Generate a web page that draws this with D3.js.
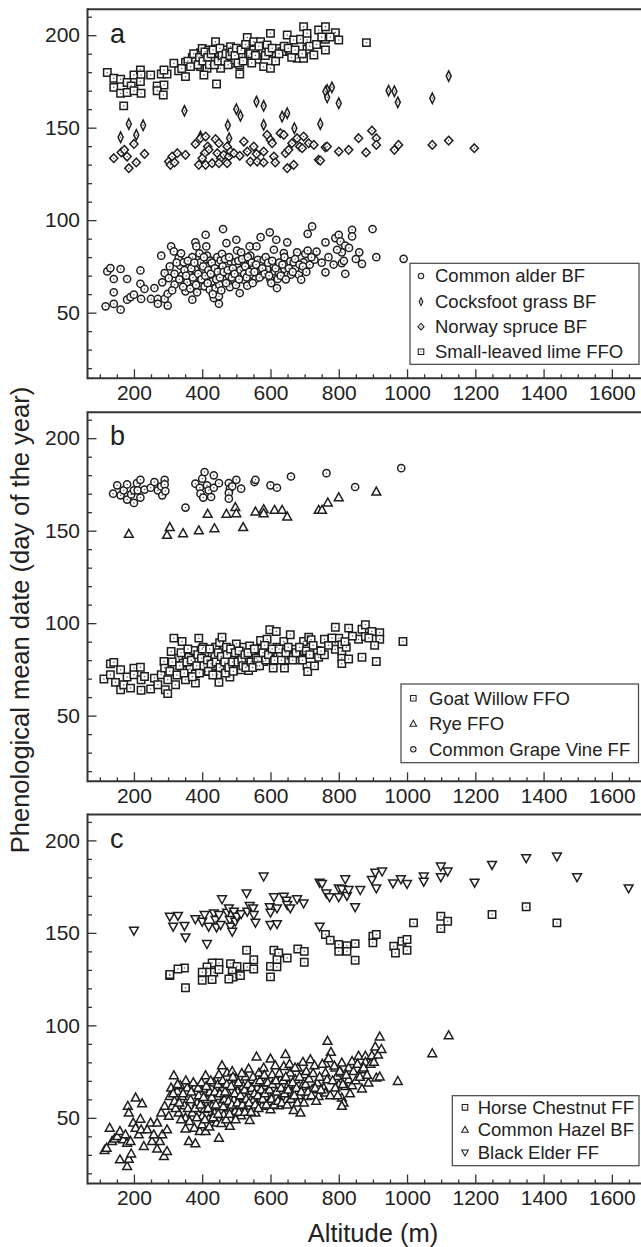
<!DOCTYPE html>
<html><head><meta charset="utf-8">
<script src="https://cdn.jsdelivr.net/npm/d3@7"></script>
<style>
body{margin:0;background:#fff}
svg{display:block}
text{font-family:"Liberation Sans",Arial,Helvetica,sans-serif;fill:#222}
</style></head>
<body><svg id="chart" width="641" height="1247"></svg>
<script>
// ---------- tick labels ----------
const xTickValues = [200,400,600,800,1000,1200,1400,1600];
const yTickValues = [50,100,150,200];
const panelLetters = ["a","b","c"];
const xTitle = "Altitude (m)";
const yTitle = "Phenological mean date (day of the year)";

// ---------- data: [altitude (m), day of year] ----------
const limeA = [[122,179.8],[141,176.7],[161,176.2],[141,171.8],[180,174.4],[192,172.6],[161,168.6],[180,169],[200,170],[200,178.5],[219,181.2],[221,178.5],[219,174.9],[221,168.6],[170,161.8],[249,178.5],[268,172.6],[288,173.1],[268,170],[286,167.7],[280,179],[297,179],[288,181.2],[317,184.8],[331,180.8],[351,177.6],[351,185.2],[371,188],[385,188.8],[395,190.6],[400,192.9],[380,185.7],[395,183],[410,186.6],[414,182.1],[405,178.5],[419,192],[429,186.6],[439,196.5],[444,191.1],[449,188.4],[454,182.1],[442,173.6],[454,186.6],[463,192],[478,190.2],[483,193.8],[473,187.5],[483,184.8],[493,186.6],[507,190.2],[510,183.9],[510,179],[517,188.8],[532,198.8],[532,193.8],[536,188.8],[551,196.5],[551,192],[561,187],[571,196.5],[575,192],[580,183],[590,194.7],[600,201],[600,182.1],[610,190.2],[619,192.9],[634,191.1],[649,200.1],[658,191.1],[668,197.4],[678,187.5],[688,197.8],[697,187.5],[697,204.6],[707,197.4],[707,192.4],[707,201],[727,189.3],[741,202.8],[761,204.6],[790,201.4],[800,197.4],[761,197.8],[761,192],[881,196],
  [340,182],[358,186],[366,183],[375,190],[388,184],[392,188],[402,186],[408,191],[416,188],[421,184],[426,190],[432,192],[436,184],[447,186],[452,193],[458,189],[466,186],[470,190],[476,184],[481,189],[488,191],[496,189],[500,193],[505,185],[514,192],[520,186],[527,195],[541,190],[545,185],[556,189],[566,194],[585,189],[595,191],[605,193],[615,186],[625,190],[640,194],[652,193],[662,188],[672,192],[693,190],[715,194],[735,195],[750,199],[775,199]];
const cocksfootA = [[185,152],[227,151.3],[161,144.8],[207,146.1],[348,159.1],[500,160],[512,156.4],[559,164.1],[580,161.8],[475,151.3],[479,144.3],[580,151.5],[634,156],[649,157.8],[670,149.7],[746,152],[395,145.2],[766,170.4],[780,171.8],[761,169.5],[766,166.4],[800,163.2],[946,170],[963,169.7],[973,163.7],[1074,165.9],[1122,177.9]];
const spruceA = [[141,133.5],[163,136.6],[172,138],[180,134.4],[185,128.1],[200,141.2],[207,131.2],[231,135.8],[302,131.7],[312,134.4],[327,136.2],[351,135.3],[307,129.9],[319,131.2],[380,141.2],[395,144.3],[410,145.2],[416,139.8],[419,138],[407,136.2],[400,133.5],[390,129.9],[410,129.9],[429,130.8],[439,143.8],[449,141.6],[444,136.2],[454,133.5],[449,130.8],[463,135.3],[473,139.8],[478,134.4],[473,130.8],[483,137.1],[493,136.2],[510,134.8],[522,142.5],[532,137.1],[541,131.7],[551,139.8],[559,135.8],[561,131.7],[580,137.1],[580,131.2],[590,146.1],[600,143.4],[605,141.6],[610,134.4],[614,131.2],[629,147],[639,146.1],[644,136.2],[653,138],[649,128.1],[668,129.9],[663,141.6],[678,144.3],[686,139.8],[693,138.9],[697,145.2],[712,141.6],[727,140.7],[741,132.6],[746,132.2],[761,139.4],[766,139.8],[800,137.1],[829,138],[858,144.3],[897,148.4],[910,144.3],[910,140.7],[880,136.6],[963,138],[975,140.7],[1074,140.7],[1122,143],[1197,138.9]];
const alderA = [[117,53.4],[122,72.3],[131,74.1],[141,68.2],[141,61],[141,54.7],[161,51.6],[161,73.6],[180,68.2],[180,57],[190,58.4],[200,59.7],[219,72.8],[219,65.6],[221,57.4],[231,62.8],[250,57.4],[260,63.3],[270,57.4],[270,54.8],[280,80.8],[283,66.4],[290,71.4],[290,57.4],[299,60.2],[299,53.8],[302,68.7],[309,85.8],[317,83.1],[319,71],[319,65.1],[331,79.5],[336,75.4],[341,70],[346,77.2],[351,61.5],[356,66.4],[361,71],[371,80],[371,57],[375,67.4],[380,73.2],[380,88],[383,85.8],[385,61],[395,77.2],[395,64.6],[400,70.5],[400,72.3],[407,64.2],[410,92.1],[412,85.8],[414,80.8],[414,75],[419,68.7],[422,62.4],[424,78.2],[429,66.9],[434,71.8],[434,57.9],[439,63.3],[444,80],[449,54.8],[449,58.8],[450,65.1],[454,73.6],[454,78.2],[458,81.8],[461,95.2],[465,67.8],[471,87.6],[473,75.9],[478,70],[481,63.8],[483,77.7],[485,72.8],[493,67.8],[497,77.2],[500,89.4],[502,83.6],[504,74.6],[510,71.4],[510,60.6],[514,82.6],[520,77.2],[522,67.8],[532,64.6],[539,85.8],[541,80.8],[543,75.9],[546,70.5],[551,74.6],[556,68.2],[559,85.8],[563,78.6],[566,72.3],[571,90.8],[573,70],[580,78.6],[590,73.6],[598,93.4],[600,67.8],[602,66],[608,75.9],[610,84],[612,72.3],[617,89.4],[619,63.3],[621,68.2],[624,71.8],[639,82.2],[641,80],[641,73.6],[649,88],[651,70.5],[658,77.7],[660,70.5],[668,77.2],[678,82.6],[683,70.5],[690,67.8],[693,73.6],[697,77.2],[702,81.8],[709,92.6],[709,83.6],[715,75.9],[722,96.6],[729,78.6],[761,88],[761,71.8],[790,90.3],[800,92.1],[805,88.5],[819,86.2],[809,82.6],[809,76.8],[819,71],[839,94.8],[839,91.2],[860,82.6],[868,76.4],[899,95.2],[910,80],[990,79.1],
  [305,75],[312,62],[325,77],[333,68],[338,82],[344,64],[348,73],[353,70],[358,78],[365,63],[368,74],[373,69],[377,77],[382,65],[388,71],[392,82],[398,68],[403,75],[405,80],[409,70],[416,66],[418,73],[425,71],[428,77],[431,60],[437,74],[441,68],[446,72],[452,69],[456,62],[460,75],[463,72],[467,79],[470,66],[475,73],[479,80],[487,69],[490,74],[495,71],[499,65],[506,78],[508,68],[512,73],[517,79],[523,71],[526,75],[530,69],[534,80],[538,72],[545,77],[548,66],[553,72],[558,76],[568,69],[576,74],[583,71],[586,80],[593,77],[596,70],[605,78],[615,74],[626,77],[630,70],[635,76],[645,68],[654,74],[665,72],[672,79],[685,76],[695,75],[705,72],[720,80],[735,83],[750,77],[770,80],[785,76],[795,84],[815,78],[830,85],[850,79]];

const grapeB = [[139,170],[151,174.5],[161,169.1],[170,171.8],[180,175],[180,166.8],[192,169.6],[200,171.8],[200,165],[209,175.7],[219,177.5],[219,167.9],[211,171.8],[231,172.2],[249,173.2],[260,176.3],[270,171.8],[280,174],[283,169.1],[290,177.5],[290,175],[292,171.4],[351,162.5],[380,175.4],[393,173.2],[400,178.1],[407,181.7],[395,170],[403,167.9],[414,174.5],[419,171.8],[426,168.2],[434,179.9],[434,173.2],[449,175.7],[478,175.7],[481,172.7],[478,170.4],[478,167.3],[488,174],[500,177.5],[514,172.7],[553,176.3],[556,177.5],[600,174.5],[619,173.2],[660,179.3],[764,181.1],[848,173.6],[983,183.8]];
const ryeB = [[185,148.1],[297,147.5],[305,151.7],[344,148.4],[390,149.9],[416,158.9],[436,151.1],[471,158.9],[497,162.5],[500,159.2],[520,151.7],[556,160.1],[580,161.4],[580,159.2],[612,161],[634,161],[649,157.4],[741,161],[751,161],[768,165],[800,167.8],[910,170.9]];
const willowB = [[112,69.8],[131,72.1],[131,78],[141,78.8],[146,68],[161,74.8],[161,64],[170,66.7],[180,70.9],[190,64.9],[200,75.7],[200,72.1],[219,76.2],[221,69.4],[221,63.7],[231,71.2],[249,64.4],[260,70.3],[270,66.7],[280,72.1],[288,79.3],[290,75.7],[292,64],[299,61.9],[299,69.4],[309,84.7],[317,91.9],[319,75.2],[322,66.7],[331,81.1],[341,90.1],[344,78.4],[351,69.4],[361,81.6],[364,75.2],[375,85.2],[380,80.2],[380,72.6],[380,67.6],[390,91.9],[395,76.9],[403,87],[407,81.6],[410,73.9],[412,84.1],[419,79.3],[429,83.4],[434,76.9],[439,87],[445,72.1],[449,68],[451,89.5],[454,80.5],[458,92.4],[461,75.7],[463,85.2],[471,87],[475,78.8],[481,70.9],[485,82.9],[493,80.2],[500,88.8],[502,76.2],[510,82],[514,74.8],[522,87],[530,80.2],[536,74.4],[539,87.7],[546,84.1],[551,80.6],[561,76.9],[566,85.9],[571,90.6],[573,82],[580,79.3],[590,91.3],[598,96.4],[600,84.7],[602,80.6],[608,75.7],[617,95.5],[619,87],[621,82],[629,83.8],[639,90.1],[641,75.7],[649,80.2],[658,93.7],[660,82.9],[670,85.9],[680,80.2],[690,83.4],[697,90.1],[699,84.7],[707,76.9],[709,73.9],[712,92.4],[719,91],[729,76.9],[737,85.2],[741,81.6],[758,91.3],[758,82.9],[790,97.8],[790,89.2],[790,85.9],[800,91.9],[809,88.3],[809,84.7],[809,81.1],[809,78.1],[822,87],[829,97.3],[829,80.6],[858,91.3],[868,81.6],[868,96.7],[878,99.1],[878,92.8],[897,95.5],[910,79.3],[920,94.9],[920,91.3],[988,90.1],
  [305,74],[312,79],[326,72],[334,77],[338,84],[347,73],[355,79],[358,86],[368,80],[371,71],[384,77],[387,83],[392,73],[398,81],[400,86],[405,77],[415,80],[418,74],[422,86],[426,78],[431,72],[437,82],[441,79],[447,84],[452,76],[456,82],[466,79],[468,73],[473,83],[478,76],[483,86],[489,79],[491,74],[497,84],[505,79],[508,85],[516,80],[519,77],[525,83],[528,76],[534,84],[543,79],[548,76],[553,86],[558,81],[563,80],[568,77],[578,84],[583,88],[586,80],[594,83],[605,86],[612,80],[625,86],[632,80],[645,84],[652,87],[665,80],[675,84],[685,87],[694,80],[705,85],[715,83],[725,88],[748,85],[770,88],[780,92],[818,90],[840,93],[888,92],[905,88]];

const elderC = [[200,151.4],[305,159],[329,159.4],[315,153.6],[348,154],[351,147.8],[380,157.6],[400,156.3],[407,159.9],[414,144.2],[419,153.6],[434,160.8],[439,157.2],[442,153.2],[449,159.9],[454,154.5],[458,168.4],[473,161.2],[478,163.5],[481,157.2],[483,153.6],[488,150.9],[493,161.7],[497,156.3],[502,159],[514,160.4],[530,171.6],[532,161.7],[539,164.8],[549,163.5],[551,159.9],[556,155.7],[580,180.7],[598,164.1],[600,161.2],[600,154.5],[610,169.5],[619,163.5],[619,155],[639,169.8],[647,167.7],[649,165.3],[658,163.5],[678,168.4],[697,166.2],[744,177.4],[744,153.6],[751,176.7],[764,171.6],[773,169.5],[800,174.3],[800,169.5],[809,173.8],[819,179.2],[824,170.2],[829,173.4],[848,164.1],[863,173.4],[897,178.9],[907,182.8],[910,174.3],[927,183.4],[959,177],[982,179.2],[1000,176.7],[1049,180.7],[1049,177.9],[1099,186.1],[1099,180.3],[1119,183.4],[1198,177.4],[1249,187],[1349,190.6],[1439,191.5],[1498,180.3],[1649,174.3]];
const chestnutC = [[530,140.6],[551,135.5],[610,140.6],[624,139.1],[649,136.4],[680,141.3],[699,140],[699,134.1],[600,131.9],[619,135.5],[532,131.6],[551,130.5],[483,133.4],[502,131.9],[449,133.7],[429,133.7],[414,131.6],[434,128.7],[414,128.7],[400,128.7],[348,131],[329,130.5],[305,126.9],[488,129.2],[491,126.1],[510,127.4],[305,127.5],[351,120.3],[400,124.4],[429,124.8],[449,130.2],[478,125.1],[512,126.9],[600,126.2],[619,131.6],[761,149.1],[775,146],[800,143.7],[800,140],[824,143.1],[824,140],[848,144.2],[848,135.2],[900,148.2],[900,144.6],[910,149.1],[961,142.8],[966,139.1],[985,145.5],[1000,146.4],[1000,140.6],[1019,155.4],[1099,159],[1119,156.3],[1099,152.3],[1249,159.9],[1349,164.1],[1439,155.4]];
const hazelC = [[114,32.4],[120,33.6],[129,44.4],[136,37.2],[143,38.5],[151,39.9],[159,42.6],[159,27.3],[169,38.1],[175,40.8],[180,36.3],[180,23.7],[182,56.2],[185,52.6],[185,27.6],[190,37.2],[192,30.5],[198,47.2],[205,60.7],[205,44.4],[214,40.8],[219,49.3],[221,43.5],[224,57.6],[229,34.5],[239,43.5],[249,47.2],[253,37.2],[258,40.8],[268,47.2],[268,33.1],[276,37.2],[280,52.6],[283,40.8],[288,29.1],[290,56.2],[297,43.5],[297,31.8],[302,50.8],[305,61.6],[309,66.1],[312,56.2],[317,72.8],[319,58.9],[327,64.3],[331,52.6],[336,67.4],[341,61.6],[348,56.5],[351,43.9],[351,49.9],[356,66.1],[361,37.2],[366,59.8],[371,52.6],[377,44.4],[380,36],[380,67],[385,58],[390,62],[393,42.6],[400,50.8],[400,46.3],[403,65.6],[407,54.7],[410,72.8],[410,42.6],[414,59.8],[419,49.3],[422,63.8],[429,56.2],[434,68.8],[436,52.6],[442,47.2],[444,61.6],[449,39],[449,73.3],[454,57.1],[458,78.2],[458,66.1],[463,51.7],[465,59.8],[473,74.2],[475,63.4],[478,55.3],[481,45.4],[483,49.3],[488,75.1],[491,67.9],[493,59.8],[497,53.5],[500,71],[504,64.3],[510,56.5],[514,51.1],[520,67],[522,61.6],[527,72.1],[532,56.2],[536,76.4],[539,48.6],[541,64.3],[546,70.6],[551,59.8],[556,52.6],[559,82.9],[561,66.1],[566,74.2],[571,60.7],[575,56.2],[580,76.9],[585,68.8],[590,63.4],[595,58.3],[600,81.8],[600,54.4],[605,73.3],[610,66.1],[614,78.2],[619,61.6],[624,56.5],[629,70.6],[634,64.3],[639,77.8],[644,84.2],[647,59.8],[653,67.9],[658,74.2],[663,63.4],[668,54],[673,70.6],[680,76.9],[683,62],[688,52.6],[693,67],[699,73.3],[707,61.6],[717,81.4],[722,65.2],[729,78.2],[737,68.8],[741,61.6],[767,91.4],[777,85.4],[761,79.3],[761,74.2],[766,70.6],[756,66.1],[761,63.4],[790,76.9],[795,72.4],[800,67.9],[790,66.1],[809,79.6],[807,74.2],[809,60.7],[814,58],[809,56.2],[819,67],[829,76.9],[829,70.6],[839,67.4],[839,80.5],[858,83.3],[868,76],[868,65.6],[878,83.3],[878,80],[887,68.8],[897,83.6],[907,88.3],[910,71.5],[920,93.7],[920,72.1],[973,69.7],[1074,84.7],[1122,94.4],
  [315,63],[322,55],[328,68],[333,58],[338,49],[344,63],[352,70],[358,55],[363,48],[368,64],[374,69],[379,55],[384,50],[388,66],[395,57],[398,69],[404,61],[408,49],[412,67],[417,55],[421,45],[425,70],[428,61],[432,50],[437,64],[440,57],[446,68],[447,52],[452,63],[456,47],[460,70],[462,56],[467,64],[470,49],[472,68],[477,59],[480,52],[485,67],[487,57],[490,72],[495,63],[498,49],[503,58],[506,69],[508,53],[512,62],[516,74],[518,57],[524,65],[525,53],[529,60],[534,68],[537,58],[543,53],[545,66],[549,72],[553,63],[555,57],[558,69],[563,62],[565,55],[569,70],[573,65],[577,60],[582,73],[584,63],[588,57],[592,69],[597,65],[603,60],[606,68],[611,57],[616,70],[618,64],[622,59],[626,74],[631,66],[633,58],[637,70],[641,63],[645,72],[649,57],[652,65],[656,79],[660,60],[665,69],[670,62],[672,77],[676,66],[679,58],[685,72],[690,64],[695,80],[698,58],[703,68],[705,75],[710,64],[713,71],[720,62],[725,74],[731,66],[734,59],[744,72],[748,65],[752,79],[770,82],[775,62],[782,70],[787,78],[797,62],[803,75],[812,68],[822,73],[833,63],[843,75],[850,70],[855,79],[862,72],[873,77],[883,73],[893,79],[903,80],[915,84],[925,87]];

// ---------- marker shapes ----------
const shapes = {
  circle: s => { const r=3.6*s; return `M${r},0A${r},${r} 0 1,1 ${-r},0A${r},${r} 0 1,1 ${r},0Z`; },
  square: s => { const h=3.7*s; return `M${-h},${-h}H${h}V${h}H${-h}Z`; },
  diamond: s => { const w=4.1*s,h=4.3*s; return `M0,${-h}L${w},0L0,${h}L${-w},0Z`; },
  thin: s => { const w=2.5*s,h=5.2*s; return `M0,${-h}L${w},0L0,${h}L${-w},0Z`; },
  up: s => { const w=4.4*s; return `M0,${-4.9*s}L${w},${3*s}L${-w},${3*s}Z`; },
  down: s => { const w=4.4*s; return `M0,${4.9*s}L${w},${-3*s}L${-w},${-3*s}Z`; }
};

const W = 641, left = 87.5, right = 646, panelH = 369;
const x = d3.scaleLinear().domain([64,1700]).range([left,right]);

const panels = [
  {top:9.3, letter:"a", letterY:42.7,
   series:[{name:"Common alder BF",data:alderA,shape:"circle",dot:true},
           {name:"Cocksfoot grass BF",data:cocksfootA,shape:"thin",dot:true},
           {name:"Norway spruce BF",data:spruceA,shape:"diamond",dot:true},
           {name:"Small-leaved lime FFO",data:limeA,shape:"square",dot:true}],
   legend:{x:410,y:263.3,w:229,h:101,rows:[276,301.7,326.7,351.7],sx:421,tx:435}},
  {top:412.3, letter:"b", letterY:445,
   series:[{name:"Goat Willow FFO",data:willowB,shape:"square",dot:true},
           {name:"Rye FFO",data:ryeB,shape:"up",dot:false},
           {name:"Common Grape Vine FF",data:grapeB,shape:"circle",dot:true}],
   legend:{x:401,y:684,w:237.5,h:78.7,rows:[698.3,724,749.3],sx:413.3,tx:429}},
  {top:814.5, letter:"c", letterY:848.3,
   series:[{name:"Horse Chestnut FF",data:chestnutC,shape:"square",dot:true},
           {name:"Common Hazel BF",data:hazelC,shape:"up",dot:false},
           {name:"Black Elder FF",data:elderC,shape:"down",dot:false}],
   legend:{x:452.3,y:1095.7,w:186.7,h:70,rows:[1107.3,1130,1152.3],sx:465,tx:477.7}}
];

const svg = d3.select("#chart");
const axisColor = "#333";

function styleAxis(g, fs){
  g.select(".domain").remove();
  g.selectAll("line").attr("stroke",axisColor).attr("stroke-width",1.3);
  g.selectAll("text").attr("font-size",fs).attr("fill","#222");
  g.attr("font-family",null).attr("font-size",null);
}

const yMinor = d3.range(20,211,10).filter(v=>!yTickValues.includes(v));
const xMinor = d3.range(100,1701,50).filter(v=>!xTickValues.includes(v));
const fmt = d3.format("d");

panels.forEach(p=>{
  const y = d3.scaleLinear().domain([14.5,214]).range([p.top+panelH,p.top]);
  const g = svg.append("g");
  const bottom = p.top+panelH;

  // points
  p.series.forEach(s=>{
    const pts = g.append("g");
    pts.selectAll("path").data(s.data).join("path")
      .attr("d",shapes[s.shape](1))
      .attr("transform",d=>`translate(${x(d[0])},${y(d[1])})`)
      .attr("fill","#fff").attr("stroke","#1e1e1e").attr("stroke-width",1.5);
    if(s.dot){
      pts.selectAll("circle").data(s.data).join("circle")
        .attr("cx",d=>x(d[0])).attr("cy",d=>y(d[1])).attr("r",0.75).attr("fill","#555");
    }
  });

  // axes
  g.append("g").attr("transform",`translate(${left},0)`)
    .call(d3.axisLeft(y).tickValues(yMinor).tickSize(-4.5).tickFormat(""))
    .call(a=>styleAxis(a,21));
  g.append("g").attr("transform",`translate(${left},0)`)
    .call(d3.axisLeft(y).tickValues(yTickValues).tickSize(-9).tickPadding(7.5).tickFormat(fmt))
    .call(a=>styleAxis(a,21));
  g.append("g").attr("transform",`translate(0,${bottom})`)
    .call(d3.axisBottom(x).tickValues(xMinor).tickSize(-4).tickFormat(""))
    .call(a=>styleAxis(a,21));
  g.append("g").attr("transform",`translate(0,${bottom})`)
    .call(d3.axisBottom(x).tickValues(xTickValues).tickSize(-9).tickPadding(7).tickFormat(fmt))
    .call(a=>styleAxis(a,21));

  // frame
  g.append("line").attr("x1",left).attr("x2",W).attr("y1",p.top).attr("y2",p.top)
    .attr("stroke",axisColor).attr("stroke-width",2);
  g.append("line").attr("x1",left).attr("x2",W).attr("y1",bottom).attr("y2",bottom)
    .attr("stroke",axisColor).attr("stroke-width",2);
  g.append("line").attr("x1",left).attr("x2",left).attr("y1",p.top-1).attr("y2",bottom+1)
    .attr("stroke",axisColor).attr("stroke-width",2);

  // panel letter
  g.append("text").attr("x",110).attr("y",p.letterY).attr("font-size",27).text(p.letter);

  // legend
  const L = p.legend;
  const lg = g.append("g");
  lg.append("rect").attr("x",L.x).attr("y",L.y).attr("width",L.w).attr("height",L.h)
    .attr("fill","#fff").attr("stroke","#444").attr("stroke-width",1.2);
  p.series.forEach((s,i)=>{
    const yy = L.rows[i];
    lg.append("path").attr("d",shapes[s.shape](0.75)).attr("transform",`translate(${L.sx},${yy})`)
      .attr("fill","#fff").attr("stroke","#222").attr("stroke-width",1.1);
    if(s.dot) lg.append("circle").attr("cx",L.sx).attr("cy",yy).attr("r",0.6).attr("fill","#555");
    lg.append("text").attr("x",L.tx).attr("y",yy).attr("dy","0.35em").attr("font-size",18.5).text(s.name);
  });
});

// axis titles
svg.append("text").attr("x",373).attr("y",1241.5).attr("text-anchor","middle")
  .attr("font-size",25.5).text(xTitle);
svg.append("text").attr("transform","translate(29,620) rotate(-90)").attr("text-anchor","middle")
  .attr("font-size",25.5).text(yTitle);
</script>
</body></html>
